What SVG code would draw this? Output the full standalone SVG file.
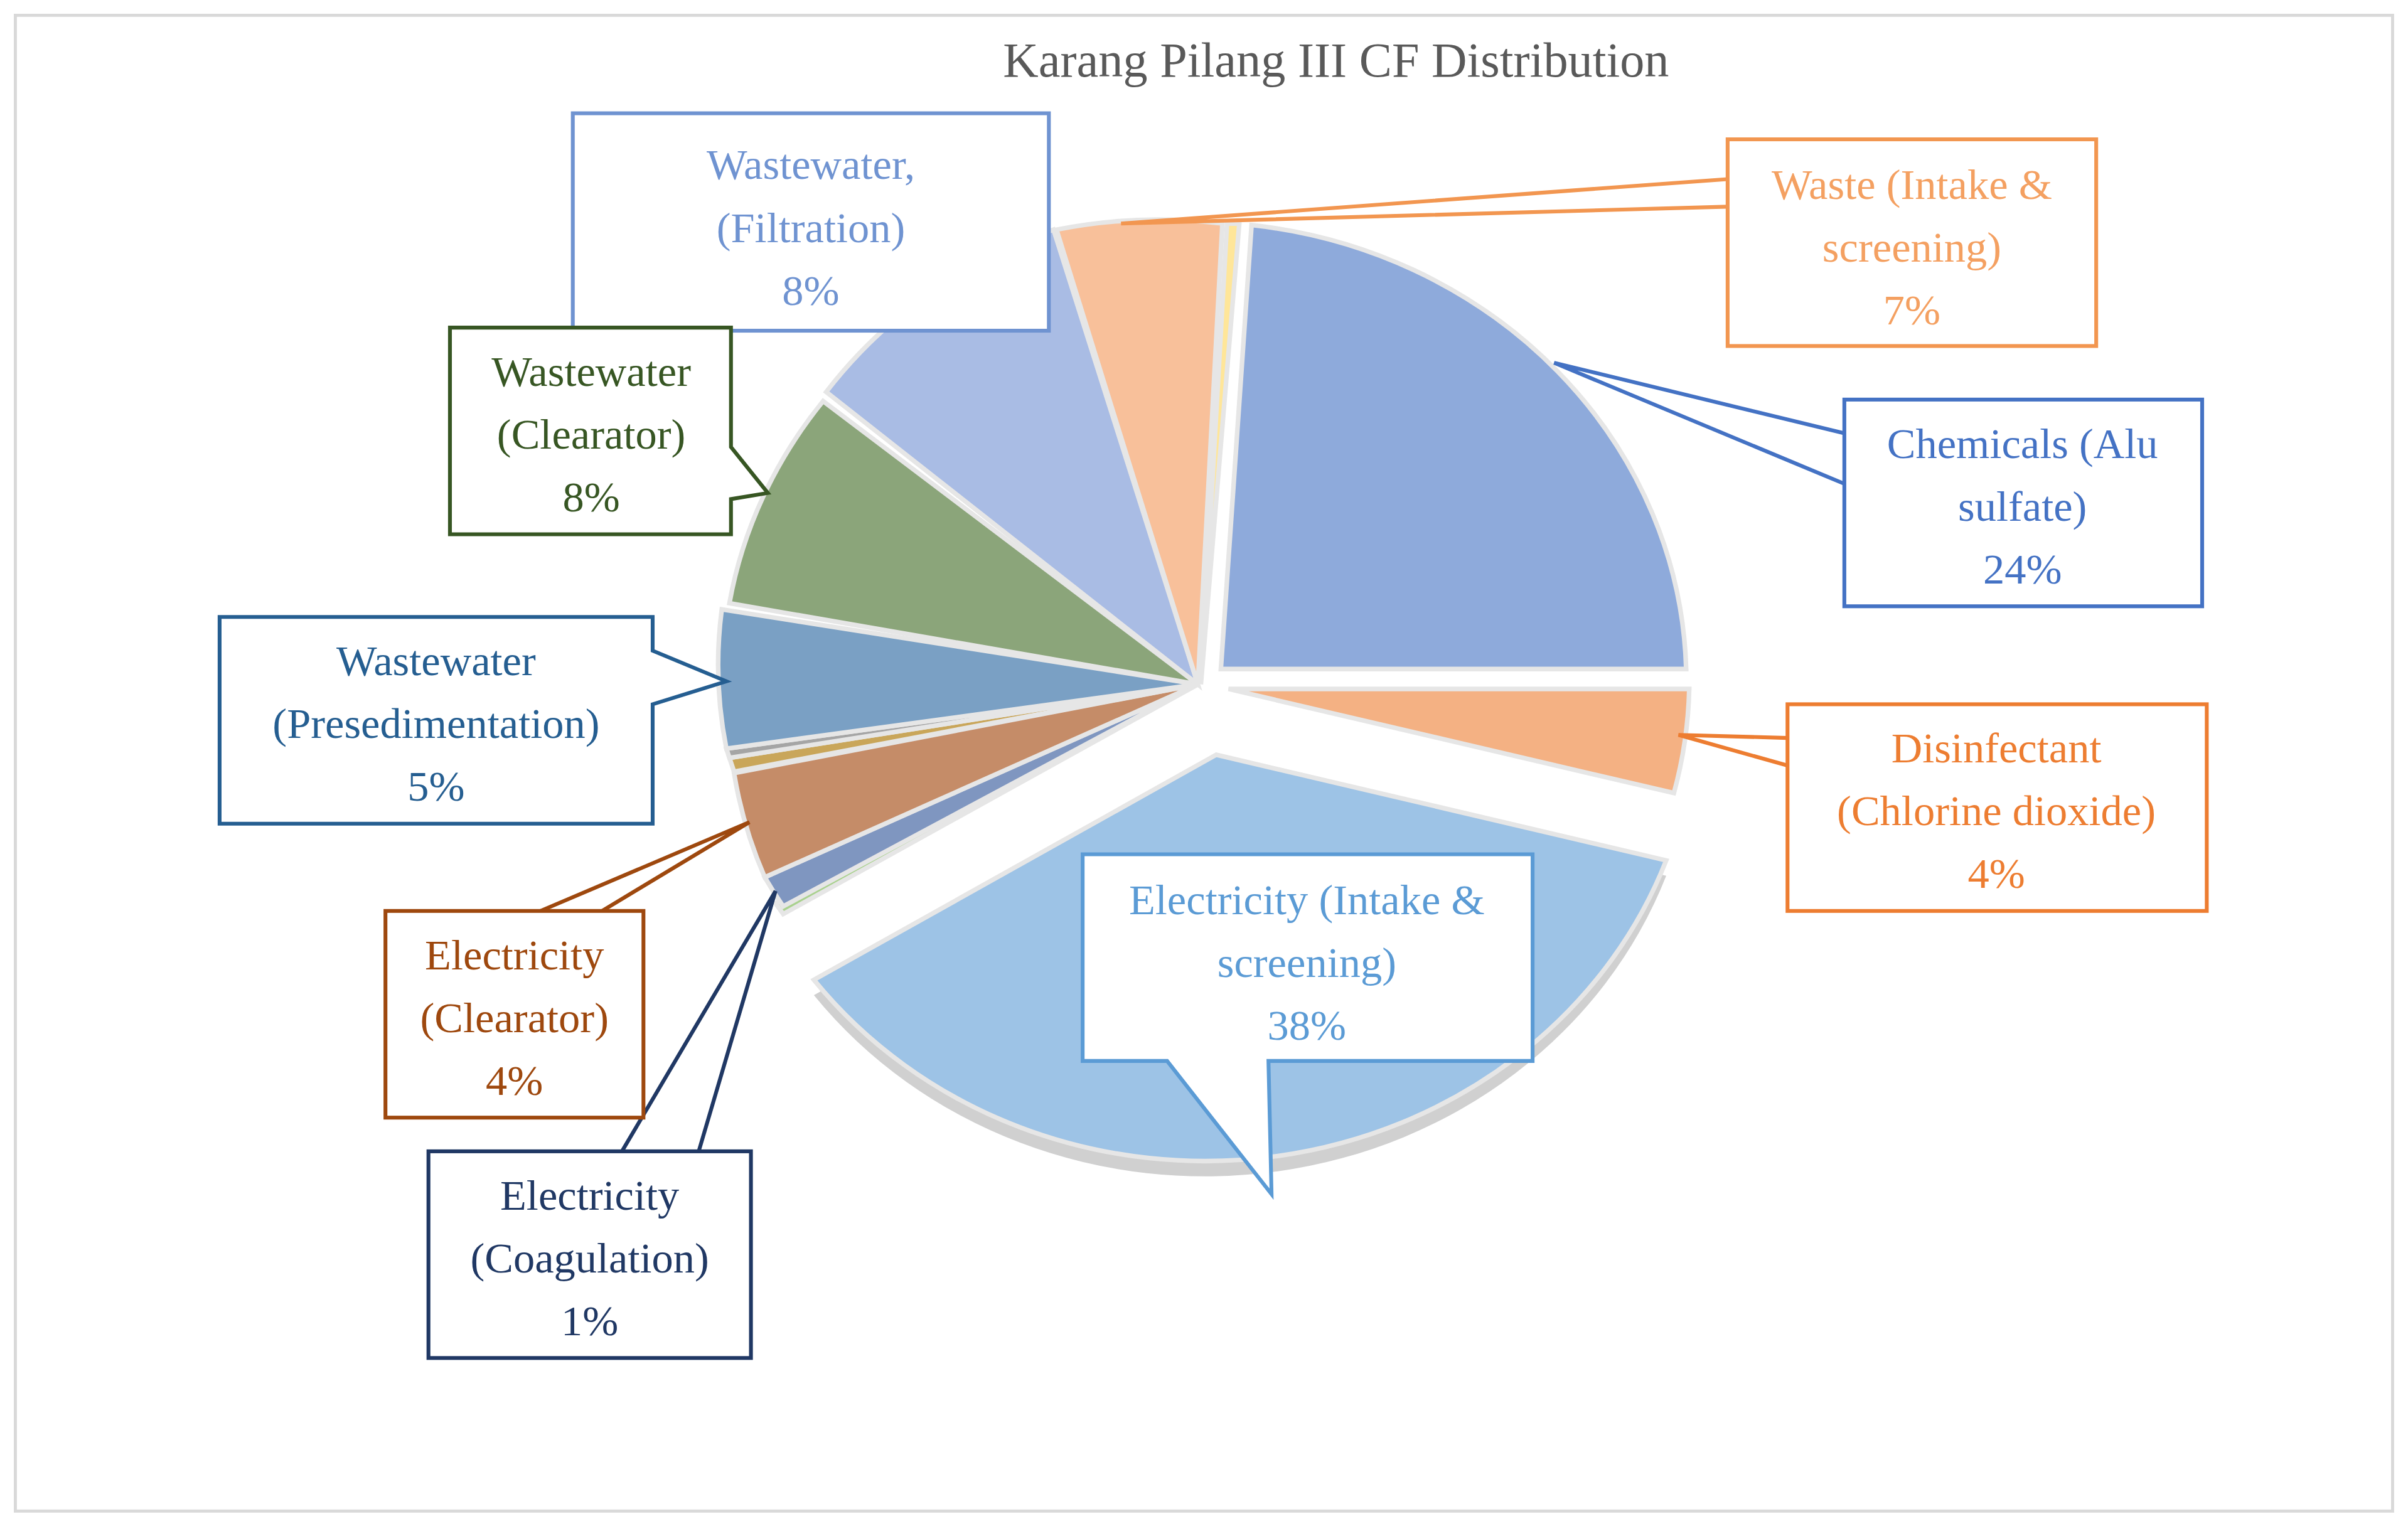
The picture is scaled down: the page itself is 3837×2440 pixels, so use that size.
<svg xmlns="http://www.w3.org/2000/svg" width="3837" height="2440" viewBox="0 0 3837 2440">
<style>
text{font-family:"Liberation Serif","DejaVu Serif",serif;font-size:28px;text-anchor:middle}
.s{stroke:#e6e6e6;stroke-width:3}
.b{fill:#fff;stroke-width:2.5}
.l{fill:none;stroke-width:2.5}
</style>
<rect width="3837" height="2440" fill="#fff"/>
<g transform="scale(2.447,2.44)">
<rect x="10" y="10" width="1548" height="977" fill="#fff" stroke="#d9d9d9" stroke-width="2"/>
<text x="870" y="50" style="font-size:32px" fill="#595959">Karang Pilang III CF  Distribution</text>
<g id="pie">
<path d="M792,503 L1085,572 A320,300 0 0 1 530,650 Z" fill="#d0d0d0"/>
<path class="s" d="M795,437 L815,147 A320,300 0 0 1 1098,437 Z" fill="#8eaadb"/>
<path class="s" d="M800,450 L1100,450 A320,300 0 0 1 1090,518 Z" fill="#f4b183"/>
<path class="s" d="M792,493 L1085,562 A320,300 0 0 1 530,640 Z" fill="#9dc3e6"/>
<path class="s" d="M780,447 L510,597 L505,590 Z" fill="#a9d18e"/>
<path class="s" d="M780,447 L510,592 A320,300 0 0 1 498,573 Z" fill="#7f96c0"/>
<path class="s" d="M780,447 L498,573 A320,300 0 0 1 478,505 Z" fill="#c58c68"/>
<path class="s" d="M780,447 L478,504 L475,495 Z" fill="#c9a65a"/>
<path class="s" d="M780,447 L475,495 L473,489 Z" fill="#a5a5a5"/>
<path class="s" d="M780,447 L473,489 A320,300 0 0 1 470,398 Z" fill="#7aa0c4"/>
<path class="s" d="M780,447 L475,394 A320,300 0 0 1 536,262 Z" fill="#8ba57a"/>
<path class="s" d="M780,447 L538,256 A320,300 0 0 1 686,150 Z" fill="#a9bce4"/>
<path class="s" d="M780,447 L688,150 A320,300 0 0 1 796,146 Z" fill="#f8c09a"/>
<path class="s" d="M782,447 L799,146 L807,146 Z" fill="#ffe699"/>
</g>
<g id="connectors">
<polyline class="l" stroke="#f29650" points="1125,117 730,146 1125,135"/>
<polyline class="l" stroke="#4472c4" points="1201,283 1012,237 1201,316"/>
<polyline class="l" stroke="#ed7d31" points="1164,482 1093,480 1164,500"/>
<polyline class="l" stroke="#9e480e" points="352,595 488,537 392,595"/>
<polyline class="l" stroke="#203864" points="405,752 505,582 455,752"/>
</g>
<g id="n-filtration"><rect class="b" stroke="#6f93d1" x="373" y="74" width="310" height="142"/>
<g fill="#6f93d1"><text x="528" y="117">Wastewater,</text><text x="528" y="158">(Filtration)</text><text x="528" y="199">8%</text></g></g>
<g id="n-waste"><rect class="b" stroke="#f29650" x="1125" y="91" width="240" height="135"/>
<g fill="#f4a061"><text x="1245" y="130">Waste (Intake &amp;</text><text x="1245" y="171">screening)</text><text x="1245" y="212">7%</text></g></g>
<g id="n-chem"><rect class="b" stroke="#4472c4" x="1201" y="261" width="233" height="135"/>
<g fill="#4472c4"><text x="1317" y="299">Chemicals (Alu</text><text x="1317" y="340">sulfate)</text><text x="1317" y="381">24%</text></g></g>
<g id="n-disinf"><rect class="b" stroke="#ed7d31" x="1164" y="460" width="273" height="135"/>
<g fill="#ed7d31"><text x="1300" y="498">Disinfectant</text><text x="1300" y="539">(Chlorine dioxide)</text><text x="1300" y="580">4%</text></g></g>
<g id="n-elintake"><path class="b" stroke="#5b9bd5" d="M705,558 H998 V693 H826 L828,780 L760,693 H705 Z"/>
<g fill="#5b9bd5"><text x="851" y="597">Electricity (Intake &amp;</text><text x="851" y="638">screening)</text><text x="851" y="679">38%</text></g></g>
<g id="n-wwclear"><path class="b" stroke="#375623" d="M293,214 H476 V292 L500,322 L476,326 V349 H293 Z"/>
<g fill="#375623"><text x="385" y="252">Wastewater</text><text x="385" y="293">(Clearator)</text><text x="385" y="334">8%</text></g></g>
<g id="n-presed"><path class="b" stroke="#255e91" d="M143,403 H425 V425 L473,445 L425,460 V538 H143 Z"/>
<g fill="#255e91"><text x="284" y="441">Wastewater</text><text x="284" y="482">(Presedimentation)</text><text x="284" y="523">5%</text></g></g>
<g id="n-elclear"><rect class="b" stroke="#9e480e" x="251" y="595" width="168" height="135"/>
<g fill="#9e480e"><text x="335" y="633">Electricity</text><text x="335" y="674">(Clearator)</text><text x="335" y="715">4%</text></g></g>
<g id="n-elcoag"><rect class="b" stroke="#203864" x="279" y="752" width="210" height="135"/>
<g fill="#203864"><text x="384" y="790">Electricity</text><text x="384" y="831">(Coagulation)</text><text x="384" y="872">1%</text></g></g>
</g>
</svg>
